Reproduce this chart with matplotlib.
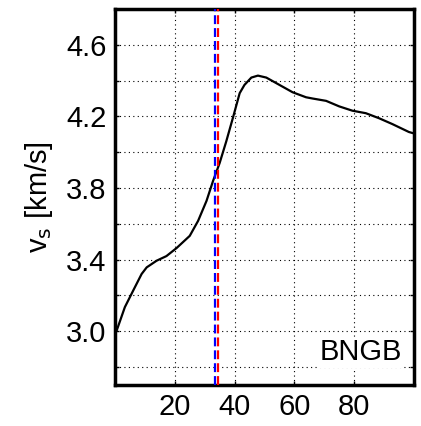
import matplotlib.pyplot as plt

plt.rcParams["font.family"] = ["Liberation Sans", "DejaVu Sans"]

# Shear velocity profile
period = [0, 0.6, 3.3, 6.1, 8.9, 10.6, 13.9, 17.2, 20.6, 25, 27.8, 30.6, 32.8, 35,
          37.2, 39.4, 41.7, 43.3, 45.6, 47.8, 50.6, 55, 59.4, 63.9, 66.1, 70.6, 75,
          79.4, 83.9, 88.3, 92.8, 98.3, 100]
vs = [3.0, 3.006, 3.135, 3.228, 3.32, 3.357, 3.394, 3.42, 3.465, 3.533, 3.617, 3.728,
      3.84, 3.94, 4.06, 4.19, 4.33, 4.376, 4.417, 4.428, 4.417, 4.376, 4.335, 4.307,
      4.30, 4.287, 4.256, 4.232, 4.218, 4.19, 4.157, 4.113, 4.105]
blue_x = 33.3
red_x = 34.4
station = "BNGB"

fig = plt.figure(figsize=(4.21, 4.26), dpi=100)
ax = fig.add_axes([115 / 421, 41 / 426, 299 / 421, 376 / 426])

ax.plot(period, vs, color="black", lw=1.6, zorder=3)
ax.axvline(blue_x, color="blue", lw=1.6, ls=(0, (4, 1.8)), zorder=4)
ax.axvline(red_x, color="red", lw=1.6, ls=(0, (4, 1.8)), zorder=4)

ax.set_xlim(0, 100)
ax.set_ylim(2.7, 4.8)
ax.set_xticks([20, 40, 60, 80])
ax.set_yticks([2.8, 3.0, 3.2, 3.4, 3.6, 3.8, 4.0, 4.2, 4.4, 4.6])
ax.set_yticklabels(["", "3.0", "", "3.4", "", "3.8", "", "4.2", "", "4.6"])
ax.grid(True, color="black", ls=(0, (1, 3)), lw=0.8)
ax.tick_params(direction="in", length=3, width=1, labelsize=21, top=True, right=True, pad=6)
for s in ax.spines.values():
    s.set_linewidth(2.5)

ax.set_ylabel(r"v$_\mathrm{s}$ [km/s]", fontsize=21, labelpad=8)
ax.text(0.96, 0.05, station, transform=ax.transAxes, ha="right", va="bottom", fontsize=21,
        bbox=dict(facecolor="white", edgecolor="none", pad=1), zorder=5)

fig.savefig("out.png", dpi=100)
